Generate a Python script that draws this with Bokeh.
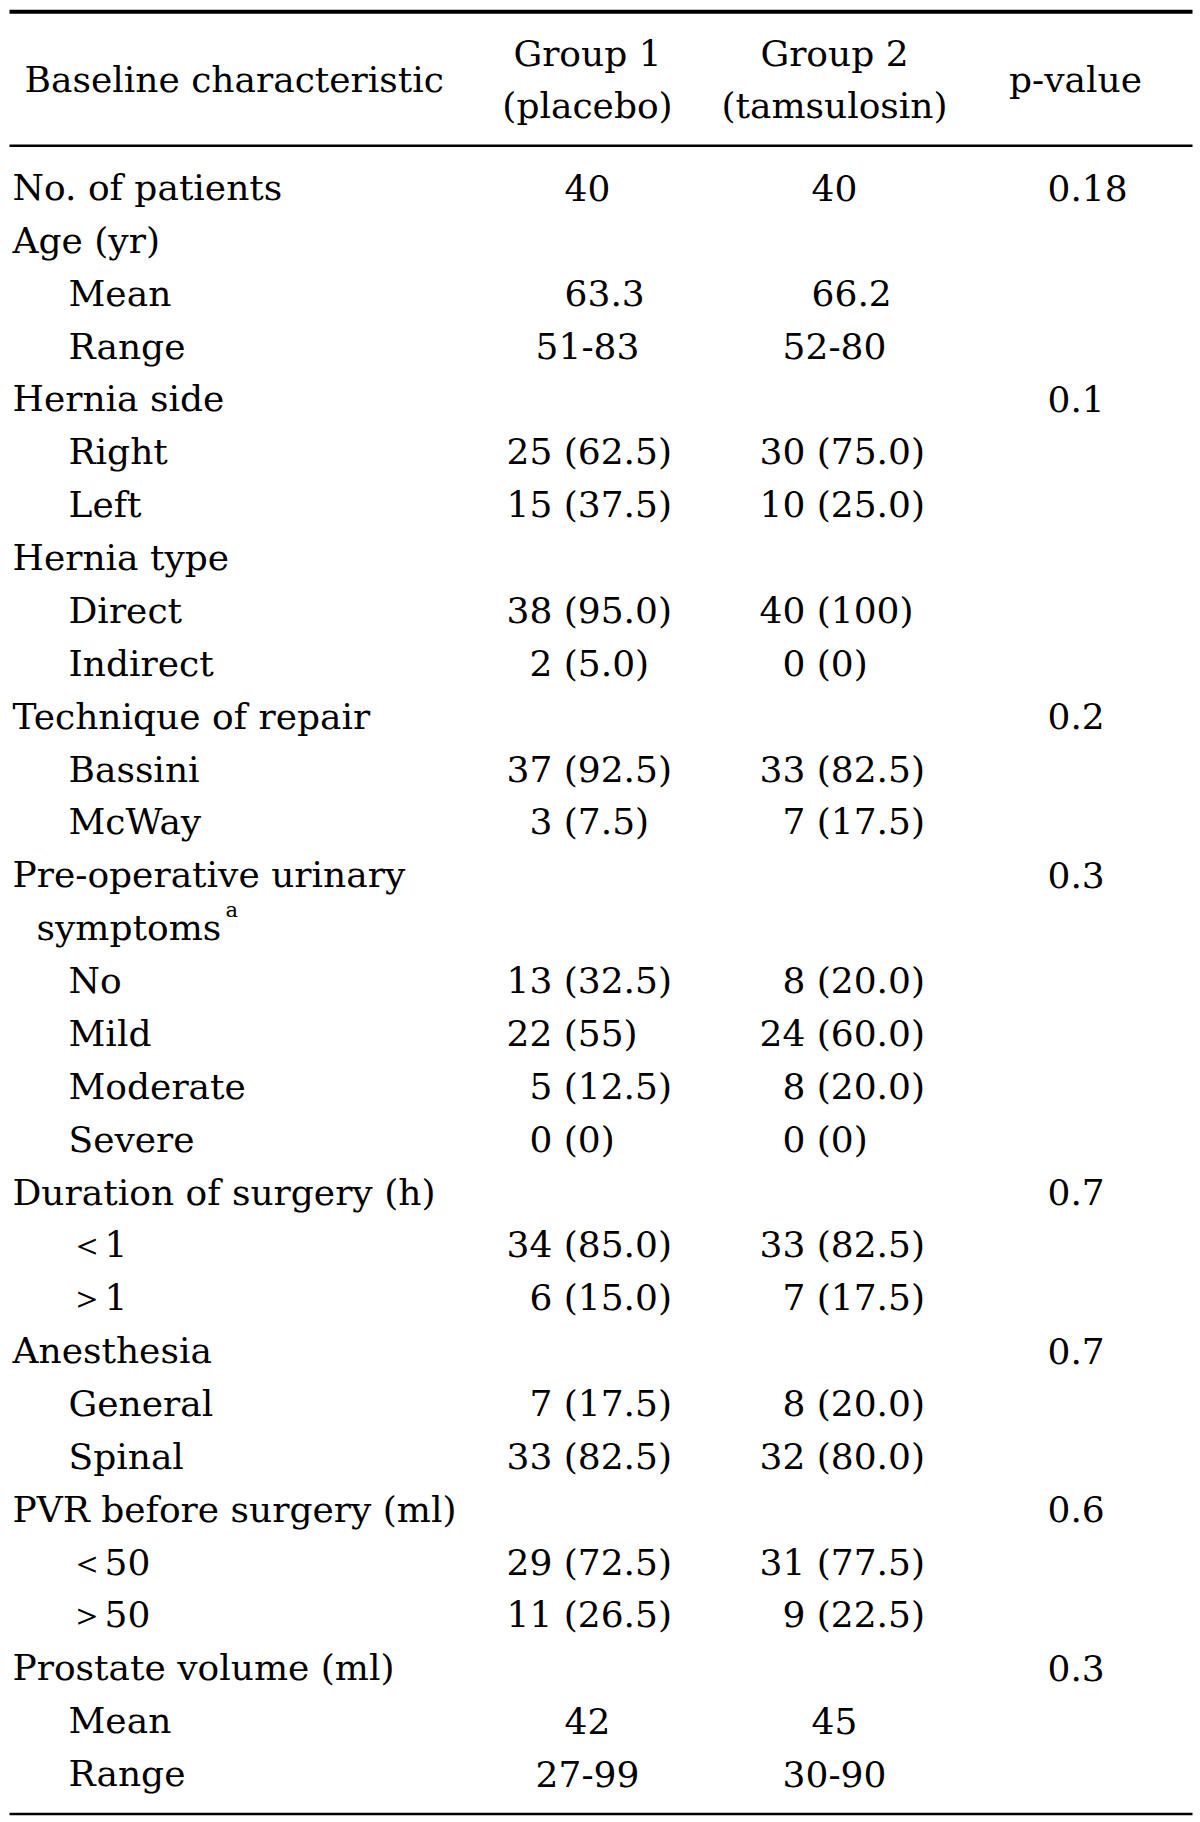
from bokeh.plotting import figure
from bokeh.models import Range1d, ColumnDataSource
from bokeh.embed import file_html
from bokeh.resources import INLINE
from bokeh.core.properties import value

# ---------------- data ----------------
header_label = "Baseline characteristic"
header_g1 = ["Group 1", "(placebo)"]
header_g2 = ["Group 2", "(tamsulosin)"]
header_p = "p-value"

labels = ["No. of patients", "Age (yr)", "Mean", "Range",
          "Hernia side", "Right", "Left",
          "Hernia type", "Direct", "Indirect",
          "Technique of repair", "Bassini", "McWay",
          "Pre-operative urinary", "symptoms", "No", "Mild", "Moderate", "Severe",
          "Duration of surgery (h)", "\uff1c1", "\uff1e1",
          "Anesthesia", "General", "Spinal",
          "PVR before surgery (ml)", "\uff1c50", "\uff1e50",
          "Prostate volume (ml)", "Mean", "Range"]
# 0 = category, 1 = sub-item, 2 = wrapped continuation
levels = [0, 0, 1, 1,
          0, 1, 1,
          0, 1, 1,
          0, 1, 1,
          0, 2, 1, 1, 1, 1,
          0, 1, 1,
          0, 1, 1,
          0, 1, 1,
          0, 1, 1]
group1 = ["40", "", "63.3", "51-83",
          "", "25 (62.5)", "15 (37.5)",
          "", "38 (95.0)", "2 (5.0)",
          "", "37 (92.5)", "3 (7.5)",
          "", "", "13 (32.5)", "22 (55)", "5 (12.5)", "0 (0)",
          "", "34 (85.0)", "6 (15.0)",
          "", "7 (17.5)", "33 (82.5)",
          "", "29 (72.5)", "11 (26.5)",
          "", "42", "27-99"]
group2 = ["40", "", "66.2", "52-80",
          "", "30 (75.0)", "10 (25.0)",
          "", "40 (100)", "0 (0)",
          "", "33 (82.5)", "7 (17.5)",
          "", "", "8 (20.0)", "24 (60.0)", "8 (20.0)", "0 (0)",
          "", "33 (82.5)", "7 (17.5)",
          "", "8 (20.0)", "32 (80.0)",
          "", "31 (77.5)", "9 (22.5)",
          "", "45", "30-90"]
pvalues = ["0.18", "", "", "",
           "0.1", "", "",
           "", "", "",
           "0.2", "", "",
           "0.3", "", "", "", "", "",
           "0.7", "", "",
           "0.7", "", "",
           "0.6", "", "",
           "0.3", "", ""]
footnote_mark = "a"   # superscript on "symptoms"

# ---------------- layout ----------------
FONT = value("DejaVu Serif")
FS = "36px"
W, H = 1200, 1822
p = figure(width=W, height=H, output_backend="svg", toolbar_location=None,
           x_range=Range1d(0, W), y_range=Range1d(H, 0),
           min_border=0, outline_line_color=None, background_fill_color="white",
           border_fill_color="white")
p.axis.visible = False
p.grid.visible = False

SHIFT = 12.0            # baseline correction for the svg text renderer
row0, pitch = 199.0, 52.87
indent_x = {0: 12, 1: 68, 2: 36}
col_left = [506, 759]
col_center = [587, 834]
digit_w = 22.9
p_left = 1047

def text(xs, ys, ts, align="left", size=FS):
    src = ColumnDataSource(dict(x=xs, y=[y - SHIFT for y in ys], t=ts))
    p.text(x="x", y="y", text="t", source=src, text_font=FONT,
           text_font_size=size, text_align=align, text_baseline="alphabetic",
           text_color="black")

ys = [row0 + i * pitch for i in range(len(labels))]

# labels
text([indent_x[l] for l in levels], ys, labels)
sym_i = labels.index("symptoms")
text([225], [ys[sym_i] - 18], [footnote_mark], size="21px")

# group columns
for ci, col in enumerate([group1, group2]):
    lx, lys, lt = [], [], []
    cx, cys, ct = [], [], []
    for y, s in zip(ys, col):
        if not s:
            continue
        if "(" in s:
            count = s.split(" ")[0]
            lx.append(col_left[ci] + (2 - len(count)) * digit_w)
            lys.append(y); lt.append(s)
        elif "-" in s:
            cx.append(col_center[ci]); cys.append(y); ct.append(s)
        else:
            lx.append(col_center[ci] - digit_w); lys.append(y); lt.append(s)
    text(lx, lys, lt)
    text(cx, cys, ct, align="center")

# p-values
pv = [(y, s) for y, s in zip(ys, pvalues) if s]
text([p_left] * len(pv), [y for y, _ in pv], [s for _, s in pv])

# header
text([24], [90.5], [header_label])
text([col_center[0]] * 2, [65, 116.5], header_g1, align="center")
text([col_center[1]] * 2, [65, 116.5], header_g2, align="center")
text([1075], [90.5], [header_p], align="center")

# rules
p.segment(x0=[9], y0=[11.3], x1=[1192], y1=[11.3], line_color="black", line_width=4)
p.segment(x0=[9], y0=[145.3], x1=[1192], y1=[145.3], line_color="black", line_width=2.5)
p.segment(x0=[9], y0=[1813.5], x1=[1192], y1=[1813.5], line_color="black", line_width=2.5)

open("out.html", "w").write(file_html(p, INLINE))
